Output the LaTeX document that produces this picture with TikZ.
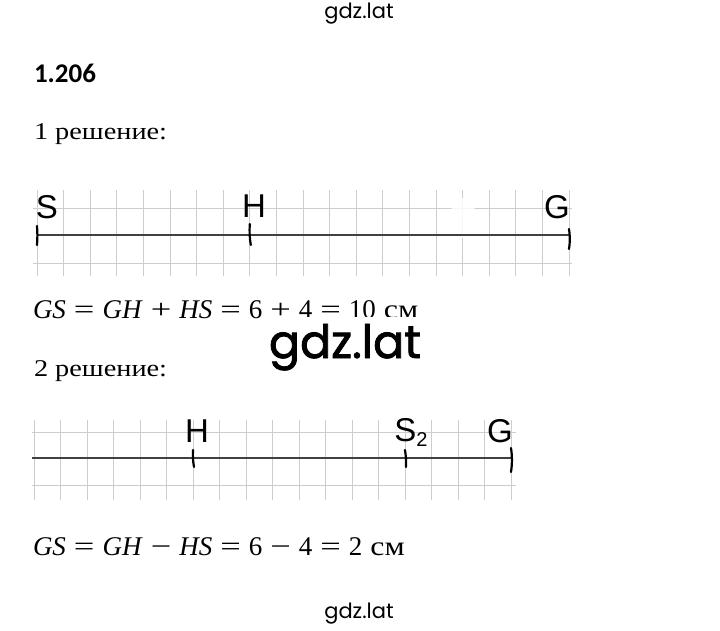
\documentclass[tikz,border=0pt]{standalone}
\usepackage{fontspec}
\usepackage{graphicx}
\setmainfont{Liberation Serif}
\newfontfamily\cyrfont{Liberation Serif}[FakeStretch=1.18]
\newfontfamily\calfont{Carlito}
\newfontfamily\gdzfont{Poppins}
\newfontfamily\gdzheavy{Poppins}[FakeBold=1.8]
\newfontfamily\handfont{Liberation Sans}
\definecolor{gridgray}{RGB}{205,205,205}
\newcommand{\eqop}[1]{\hspace{8pt}\scalebox{1.35}[1]{#1}\hspace{8pt}}
\begin{document}
\begin{tikzpicture}[x=1pt,y=-1pt]
\tikzstyle{every node}=[inner sep=0pt, outer sep=0pt]
\tikzstyle{grid line}=[gridgray, line width=0.9pt]
\tikzstyle{main line}=[black!75, line width=1.1pt]
\tikzstyle{tick}=[black, line width=2.2pt, line cap=round]
\tikzstyle{hand}=[font=\handfont\fontsize{33}{33}\selectfont]
\tikzstyle{body}=[anchor=base west, font=\cyrfont\fontsize{24}{24}\selectfont]
\tikzstyle{eqn}=[anchor=base west, font=\fontsize{27}{27}\selectfont]
\tikzstyle{wmsmall}=[anchor=base, font=\gdzfont\fontsize{21}{21}\selectfont]
\fill[white] (0,0) rectangle (720,631);
\useasboundingbox (0,0) rectangle (720,631);
\node[wmsmall] (wmTop) at (359,19) {gdz.lat};
\node[anchor=base west, font=\calfont\bfseries\fontsize{27}{27}\selectfont] (title) at (34,83) {1.206};
\node[body] (sol1) at (34,140) {1 решение:};
% first line: S -- H -- G
\foreach \i in {0,...,20}
  \draw[grid line] (37+26.6*\i,190) -- (37+26.6*\i,276);
\foreach \y in {208,263}
  \draw[grid line] (33,\y) -- (572,\y);
\fill[white, opacity=0.85] (463,218) ellipse (13 and 20);
\coordinate (S1) at (37,235);
\coordinate (H1) at (249.8,235);
\coordinate (G1) at (569,235);
\draw[main line] (S1) -- (G1);
\draw[tick] (S1) ++(0,-9) to[bend left=4] ++(0,19);
\draw[tick] (H1) ++(0,-11) to[bend right=6] ++(1,21);
\draw[tick] (G1) ++(0,-6) to[bend left=8] ++(0,20);
\node[hand] (lS1) at (47,207) {S};
\node[hand] (lH1) at (254,206) {H};
\node[hand] (lG1) at (557,207) {G};
\node[eqn] (eq1) at (33,318) {\textit{GS}\eqop{=}\textit{GH}\eqop{+}\textit{HS}\eqop{=}6\eqop{+}4\eqop{=}10\hspace{8pt}{\cyrfont см}};
\node[fill=white, inner sep=7pt, anchor=base, font=\gdzheavy\fontsize{46}{46}\selectfont] (wmMid) at (345,358) {gdz.lat};
\node[body] (sol2) at (34,376) {2 решение:};
% second line: H -- S2 -- G
\foreach \i in {0,...,18}
  \draw[grid line] (34+26.5*\i,420) -- (34+26.5*\i,500);
\foreach \y in {432,485}
  \draw[grid line] (32,\y) -- (516,\y);
\coordinate (L2) at (32,458);
\coordinate (H2) at (193,458);
\coordinate (S2) at (405,458);
\coordinate (G2) at (511,458);
\draw[main line] (L2) -- (G2);
\draw[tick] (H2) ++(0,-8) to[bend right=6] ++(1,17);
\draw[tick] (S2) ++(0,-8) to[bend left=5] ++(1,17);
\draw[tick] (G2) ++(0,-10) to[bend left=8] ++(0,24);
\node[hand] (lH2) at (197,431) {H};
\node[hand] (lS2) at (411,432) {S\raisebox{-5pt}{\fontsize{20}{20}\selectfont 2}};
\node[hand] (lG2) at (500,431) {G};
\node[eqn] (eq2) at (33,555) {\textit{GS}\eqop{=}\textit{GH}\eqop{−}\textit{HS}\eqop{=}6\eqop{−}4\eqop{=}2\hspace{8pt}{\cyrfont см}};
\node[wmsmall] (wmBot) at (359,618) {gdz.lat};
\end{tikzpicture}
\end{document}
